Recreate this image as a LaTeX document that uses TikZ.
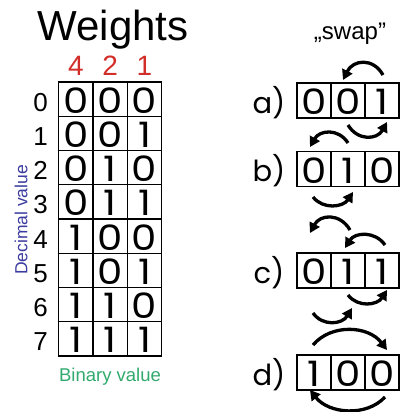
\documentclass[tikz,border=0pt]{standalone}
\usepackage{fontspec}
\setmainfont{Liberation Sans}
\newfontfamily\geofont{Poppins}
\usetikzlibrary{arrows.meta,calc}
\definecolor{wred}{RGB}{210,45,40}
\definecolor{dblue}{RGB}{60,60,160}
\definecolor{bgreen}{RGB}{50,170,110}
\newcommand\swarc[3]{\draw[swaparrow] (#1) .. controls ($(#1)!0.25!(#2)+(0,#3)$) and ($(#2)!0.25!(#1)+(0,#3)$) .. (#2);}
\newcommand\wdig[1]{\scalebox{1.15}[1]{#1}}
\begin{document}
\begin{tikzpicture}[x=1pt,y=-1pt,
  cell/.style={draw, line width=1.2pt, minimum width=34.3pt, minimum height=34.25pt, inner sep=0pt, outer sep=0pt, text height=28pt, text depth=0pt, font=\geofont\fontsize{35}{35}\selectfont},
  rcell/.style={draw, line width=1.2pt, minimum width=34pt, minimum height=35pt, inner sep=0pt, outer sep=0pt, text height=28pt, text depth=0pt, font=\geofont\fontsize{35}{35}\selectfont},
  lbl/.style={font=\geofont\fontsize{29}{29}\selectfont, inner sep=0pt},
  dec/.style={font=\fontsize{26}{26}\selectfont, inner sep=0pt},
  wgt/.style={font=\fontsize{28}{28}\selectfont, text=wred, inner sep=0pt},
  swaparrow/.style={line width=3.3pt, -{Triangle[length=10pt,width=11pt]}}]
\useasboundingbox[fill=white] (0,0) rectangle (400,412);
% titles
\node[anchor=base, inner sep=0pt, font=\fontsize{42}{42}\selectfont] (title) at (113,41) {Weights};
\node[wgt, anchor=base] (w4) at (75.8,75) {4};
\node[wgt, anchor=base] (w2) at (110.1,75) {2};
\node[wgt, anchor=base] (w1) at (144.5,75) {1};
\node[anchor=base, inner sep=0pt, font=\fontsize{24}{24}\selectfont] (swap) at (350,40) {„swap”};
% table
\foreach \r/\pa/\pb/\pc in {0/0/0/0,1/0/0/1,2/0/1/0,3/0/1/1,4/1/0/0,5/1/0/1,6/1/1/0,7/1/1/1}{
  \node[dec, anchor=base] (d\r) at (40.5,{111+34.25*\r}) {\r};
  \node[cell] (t\r-1) at (75.8,{99.1+34.25*\r}) {\wdig{\pa}};
  \node[cell] (t\r-2) at (110.1,{99.1+34.25*\r}) {\wdig{\pb}};
  \node[cell] (t\r-3) at (144.45,{99.1+34.25*\r}) {\wdig{\pc}};
}
\node[rotate=90, inner sep=0pt, text=dblue, font=\fontsize{17.5}{17.5}\selectfont] (decl) at (21,220) {Decimal value};
\node[anchor=base, inner sep=0pt, text=bgreen, font=\fontsize{18.5}{18.5}\selectfont] (binl) at (110,381.5) {Binary value};
% right boxes
\foreach \lab/\yc/\pa/\pb/\pc in {a/100.5/0/0/1, b/169/0/1/0, c/270.5/0/1/1, d/372.5/1/0/0}{
  \node[lbl, anchor=base] (l\lab) at (269,{\yc+12.5}) {\lab)};
  \node[rcell] (\lab-1) at (314,\yc) {\wdig{\pa}};
  \node[rcell] (\lab-2) at (348,\yc) {\wdig{\pb}};
  \node[rcell] (\lab-3) at (382,\yc) {\wdig{\pc}};
}
% arrow end points
\coordinate (s1) at (383,75);  \coordinate (e1) at (343,80);
\coordinate (s2) at (348,125); \coordinate (e2) at (387,122);
\coordinate (s3) at (348,143); \coordinate (e3) at (310,147);
\coordinate (s4) at (313,197); \coordinate (e4) at (353,192);
\coordinate (s5) at (350,230); \coordinate (e5) at (310,233);
\coordinate (s6) at (385,245); \coordinate (e6) at (345,248);
\coordinate (s7) at (348,295); \coordinate (e7) at (387,290);
\coordinate (s8) at (313,313); \coordinate (e8) at (352,308);
\coordinate (s9) at (313,345); \coordinate (e9) at (387,350);
\coordinate (s10) at (385,397); \coordinate (e10) at (310,390);
\swarc{s1}{e1}{-19}
\swarc{s2}{e2}{17}
\swarc{s3}{e3}{-16}
\swarc{s4}{e4}{14}
\swarc{s5}{e5}{-18}
\swarc{s6}{e6}{-15}
\swarc{s7}{e7}{14}
\swarc{s8}{e8}{15}
\swarc{s9}{e9}{-23}
\swarc{s10}{e10}{22}
\end{tikzpicture}
\end{document}
